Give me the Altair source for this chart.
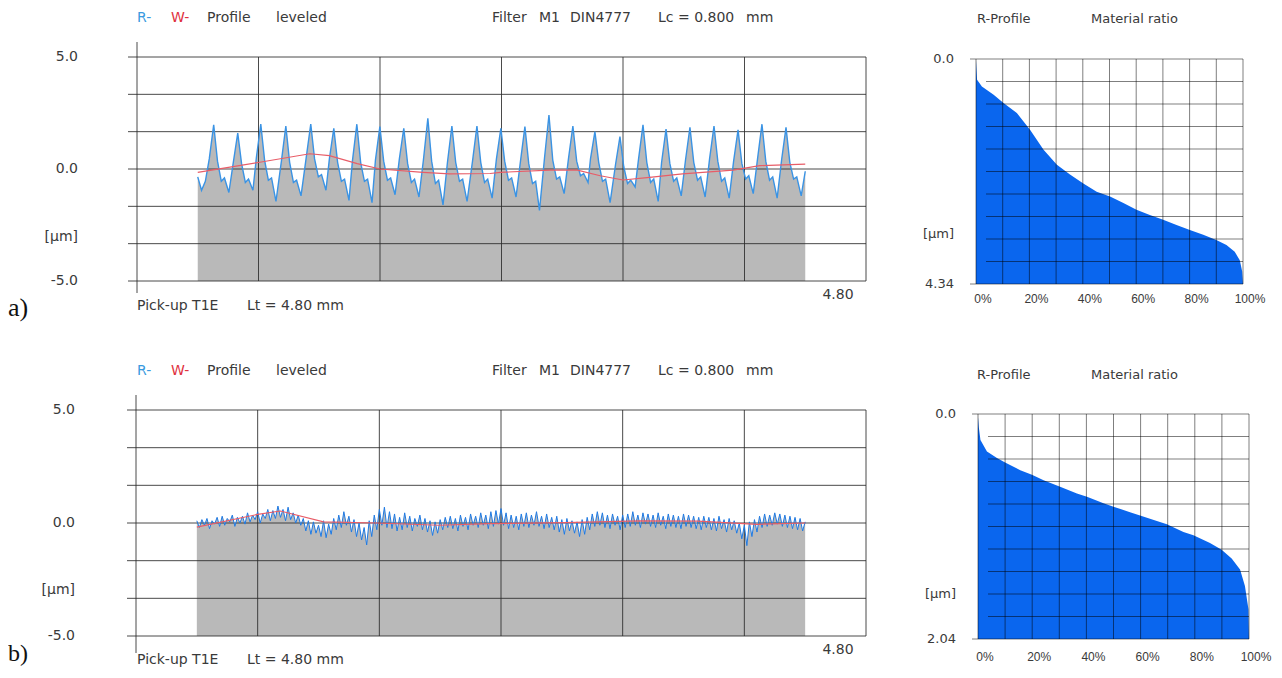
import altair as alt
import pandas as pd

# ---------------- data ----------------
# a) R-profile (x in mm, y in um)
prof_a_x = [
    0.000, 0.030, 0.060,
    0.091, 0.126, 0.156, 0.186, 0.211, 0.246,
    0.281, 0.316, 0.346, 0.376, 0.401, 0.436,
    0.463, 0.498, 0.528, 0.558, 0.583, 0.618,
    0.661, 0.696, 0.726, 0.756, 0.781, 0.816,
    0.858, 0.893, 0.923, 0.953, 0.978, 1.013,
    1.040, 1.075, 1.105, 1.135, 1.160, 1.195,
    1.222, 1.257, 1.287, 1.317, 1.342, 1.377,
    1.404, 1.439, 1.469, 1.499, 1.524, 1.559,
    1.593, 1.628, 1.658, 1.688, 1.713, 1.748,
    1.783, 1.818, 1.848, 1.878, 1.903, 1.938,
    1.973, 2.008, 2.038, 2.068, 2.093, 2.128,
    2.171, 2.206, 2.236, 2.266, 2.291, 2.326,
    2.360, 2.395, 2.425, 2.455, 2.480, 2.515,
    2.550, 2.585, 2.615, 2.645, 2.670, 2.700,
    2.740, 2.775, 2.805, 2.835, 2.860, 2.895,
    2.929, 2.964, 2.994, 3.024, 3.049, 3.084,
    3.103, 3.138, 3.168, 3.198, 3.223, 3.258,
    3.301, 3.336, 3.366, 3.396, 3.421, 3.456,
    3.483, 3.518, 3.548, 3.578, 3.603, 3.638,
    3.665, 3.700, 3.730, 3.760, 3.785, 3.820,
    3.854, 3.889, 3.919, 3.949, 3.974, 4.009,
    4.044, 4.079, 4.109, 4.139, 4.164, 4.199,
    4.234, 4.269, 4.299, 4.329, 4.354, 4.389,
    4.423, 4.458, 4.488, 4.518, 4.543, 4.578,
    4.613, 4.648, 4.678, 4.708, 4.733, 4.768,
    4.800,
]
prof_a_y = [
    -0.35, -0.95, -0.55,
    0.45, 1.97, 0.35, -0.55, -0.40, -1.05,
    0.30, 1.60, 0.25, -0.60, -0.45, -0.95,
    0.50, 2.01, 0.40, -0.50, -0.40, -1.45,
    0.35, 1.92, 0.30, -0.60, -0.50, -1.20,
    0.55, 2.01, 0.45, -0.35, -0.25, -0.95,
    0.45, 1.82, 0.30, -0.55, -0.45, -1.40,
    0.35, 2.00, 0.30, -0.55, -0.45, -1.50,
    0.40, 1.89, 0.35, -0.50, -0.40, -1.15,
    0.45, 1.82, 0.25, -0.60, -0.45, -1.25,
    0.40, 2.26, 0.35, -0.65, -0.50, -1.60,
    0.30, 1.92, 0.30, -0.55, -0.45, -1.45,
    0.35, 1.92, 0.30, -0.60, -0.45, -1.30,
    0.45, 1.82, 0.35, -0.50, -0.40, -1.25,
    0.35, 1.89, 0.25, -0.65, -0.55, -1.85,
    0.50, 2.41, 0.40, -0.45, -0.35, -1.10,
    0.45, 1.92, 0.35, -0.30, -0.20, -0.60,
    0.45, 1.67, 0.30, -0.55, -0.45, -1.50,
    0.20, 1.45, 0.10, -0.65, -0.50, -0.80,
    0.45, 1.97, 0.30, -0.60, -0.45, -1.45,
    0.30, 1.78, 0.25, -0.55, -0.40, -1.20,
    0.40, 1.86, 0.30, -0.50, -0.35, -1.25,
    0.45, 1.92, 0.35, -0.55, -0.40, -1.30,
    0.35, 1.75, 0.25, -0.45, -0.30, -1.10,
    0.45, 2.00, 0.35, -0.50, -0.35, -1.30,
    0.40, 1.86, 0.30, -0.45, -0.35, -1.20,
    -0.10,
]
# a) W-profile
wave_a_x = [0.0, 0.49, 0.885, 1.04, 1.26, 1.44, 1.78, 1.99, 2.31, 2.39, 2.78, 3.0,
            3.18, 3.36, 3.57, 3.83, 4.23, 4.44, 4.8]
wave_a_y = [-0.15, 0.3, 0.68, 0.6, 0.24, 0.0, -0.15, -0.22, -0.2, -0.15, -0.05, -0.05,
            -0.3, -0.49, -0.37, -0.22, -0.05, 0.15, 0.22]

# b) R-profile, sampled every 0.02 mm
prof_b_step = 0.02
prof_b_y = [
    0.1, -0.2, 0.15, -0.1, 0.2, -0.25, 0.1, -0.05, 0.25, -0.15,
    0.3, -0.1, 0.2, 0.05, 0.35, -0.15, 0.25, 0.0, 0.3, -0.05,
    0.45, 0.05, 0.35, 0.15, 0.5, 0.0, 0.4, 0.2, 0.6, 0.1,
    0.55, 0.2, 0.75, 0.25, 0.6, 0.1, 0.7, 0.15, 0.45, 0.0,
    0.35, -0.1, 0.2, -0.35, 0.1, -0.5, 0.05, -0.45, -0.1, -0.6,
    0.1, -0.65, -0.05, -0.5, 0.2, -0.3, 0.35, -0.2, 0.5, -0.1,
    0.3, -0.4, 0.15, -0.6, 0.0, -0.75, -0.2, -0.97, 0.1, -0.6,
    0.35, -0.3, 0.6, -0.1, 0.7, -0.2, 0.5, -0.25, 0.4, -0.35,
    0.25, -0.3, 0.45, -0.2, 0.3, -0.35, 0.2, -0.15, 0.35, -0.3,
    0.2, -0.4, 0.1, -0.55, 0.05, -0.45, 0.15, -0.3, 0.25, -0.2,
    0.3, -0.25, 0.2, -0.35, 0.35, -0.15, 0.25, -0.3, 0.4, -0.1,
    0.3, -0.2, 0.45, -0.1, 0.35, -0.25, 0.5, -0.15, 0.55, -0.05,
    0.64, -0.1, 0.45, -0.25, 0.35, -0.2, 0.3, -0.3, 0.4, -0.15,
    0.45, -0.2, 0.35, -0.1, 0.5, -0.15, 0.3, -0.25, 0.4, -0.2,
    0.25, -0.3, 0.3, -0.4, 0.15, -0.5, 0.2, -0.35, 0.1, -0.45,
    0.05, -0.6, 0.15, -0.5, 0.25, -0.3, 0.4, -0.15, 0.5, -0.1,
    0.45, -0.2, 0.35, -0.25, 0.4, -0.1, 0.3, -0.3, 0.35, -0.2,
    0.4, -0.15, 0.5, -0.1, 0.35, -0.2, 0.45, -0.05, 0.4, -0.15,
    0.35, -0.2, 0.45, -0.1, 0.3, -0.25, 0.4, -0.15, 0.35, -0.2,
    0.3, -0.25, 0.4, -0.15, 0.35, -0.2, 0.3, -0.25, 0.25, -0.3,
    0.3, -0.2, 0.25, -0.3, 0.2, -0.35, 0.3, -0.25, 0.15, -0.4,
    0.2, -0.3, 0.1, -0.45, 0.0, -0.7, -0.1, -1.0, 0.05, -0.6,
    0.15, -0.4, 0.3, -0.2, 0.4, -0.15, 0.35, -0.1, 0.45, -0.05,
    0.4, -0.15, 0.35, -0.2, 0.3, -0.25, 0.25, -0.3, 0.2, -0.35,
    0.05,
]
prof_b_x = [round(i * prof_b_step, 3) for i in range(len(prof_b_y))]
# b) W-profile
wave_b_x = [0.0, 0.48, 0.66, 1.0, 1.42, 1.91, 2.31, 2.9, 3.5, 3.95, 4.42, 4.8]
wave_b_y = [-0.18, 0.38, 0.53, 0.05, 0.0, -0.1, -0.03, 0.02, 0.09, 0.08, -0.06, 0.0]

# Material ratio (Abbott) curves: ratio in %, depth in um
ratio_a = [0, 0.4, 2.2, 6.6, 10.3, 15.3, 20.3, 25.3, 30.3, 35.2, 40.2, 45.2, 50.2, 55.2,
           60.1, 65.1, 70.1, 75.1, 80.1, 85.1, 90.0, 93.8, 96.9, 98.8, 99.7, 100]
depth_a = [0.03, 0.40, 0.53, 0.69, 0.85, 1.04, 1.37, 1.75, 2.04, 2.23, 2.40, 2.56, 2.65, 2.78,
           2.91, 3.01, 3.10, 3.20, 3.30, 3.39, 3.49, 3.59, 3.72, 3.88, 4.10, 4.34]
ratio_b = [0, 0.3, 0.9, 3.3, 7.0, 10.0, 15.6, 19.9, 24.2, 30.3, 36.5, 40.2, 46.3, 50.0, 56.1,
           59.8, 66.0, 69.7, 75.8, 79.5, 85.6, 89.9, 93.6, 96.7, 98.5, 99.8, 100]
depth_b = [0.03, 0.12, 0.235, 0.34, 0.40, 0.44, 0.51, 0.55, 0.60, 0.66, 0.72, 0.75, 0.81, 0.84,
           0.89, 0.92, 0.97, 1.00, 1.07, 1.10, 1.17, 1.23, 1.31, 1.41, 1.56, 1.77, 2.04]

# grids and tick labels
grid_profile_y = [-5.0, -3.333, -1.667, 0.0, 1.667, 3.333, 5.0]
grid_profile_x = [0.48, 1.44, 2.40, 3.36, 4.32, 5.28]
profile_ticks = [5.0, 0.0, -5.0]
profile_tick_labels = ["5.0", "0.0", "-5.0"]
grid_ratio = [0, 10, 20, 30, 40, 50, 60, 70, 80, 90, 100]
ratio_ticks = [0, 20, 40, 60, 80, 100]
ratio_tick_labels = ["0%", "20%", "40%", "60%", "80%", "100%"]
grid_depth_a = [0.434, 0.868, 1.302, 1.736, 2.170, 2.604, 3.038, 3.472, 3.906]
grid_depth_b = [0.204, 0.408, 0.612, 0.816, 1.020, 1.224, 1.428, 1.632, 1.836]
depth_max_a = 4.34
depth_max_b = 2.04
profile_length = "4.80"

# ---------------- styles ----------------
FONT = "DejaVu Sans"
TXT = "#3a3a3a"
GRID = "#2a2a2a"
GRAY = "#b9b9b9"
BLUE_R = "#3a93e4"
RED_W = "#e85d68"
MAT_BLUE = "#0a66ee"

layers = []


def S(domain, rng):
    return alt.Scale(domain=domain, range=rng, nice=False, zero=False)


def label(text, x, y, align="left", size=14, color=TXT, font=FONT):
    return alt.Chart(pd.DataFrame({"t": [text]})).mark_text(
        align=align, baseline="middle", fontSize=size, font=font, color=color
    ).encode(x=alt.value(x), y=alt.value(y), text="t:N")


def profile_panel(px, py, wx, wy, xr, yr, hx0, ax_top, ax_bot, line_color, line_w, top_y,
                  pick_y, len_y, lab_x, um_y):
    xs = S([-0.48, 5.28], xr)
    ys = S([-5, 5], yr)
    X = lambda f: alt.X(f, type="quantitative", scale=xs, axis=None)
    Y = lambda f: alt.Y(f, type="quantitative", scale=ys, axis=None)
    dprof = pd.DataFrame({"x": px, "y": py})
    dwave = pd.DataFrame({"x": wx, "y": wy})
    out = []
    out.append(alt.Chart(dprof).mark_area(color=GRAY, opacity=1).encode(
        x=X("x"), y=Y("y"), y2=alt.datum(-5)))
    out.append(alt.Chart(pd.DataFrame({"g": grid_profile_y})).mark_rule(
        color=GRID, strokeWidth=1, opacity=0.85).encode(
        y=Y("g"), x=alt.value(hx0), x2=alt.value(xr[1])))
    out.append(alt.Chart(pd.DataFrame({"g": grid_profile_x})).mark_rule(
        color=GRID, strokeWidth=1, opacity=0.85).encode(
        x=X("g"), y=alt.value(yr[1]), y2=alt.value(yr[0])))
    out.append(alt.Chart(pd.DataFrame({"g": [-0.48]})).mark_rule(
        color=GRID, strokeWidth=1, opacity=0.85).encode(
        x=X("g"), y=alt.value(ax_top), y2=alt.value(ax_bot)))
    out.append(alt.Chart(dprof).mark_line(color=line_color, strokeWidth=line_w).encode(
        x=X("x"), y=Y("y")))
    out.append(alt.Chart(dwave).mark_line(color=RED_W, strokeWidth=1.2).encode(
        x=X("x"), y=Y("y")))
    out.append(alt.Chart(pd.DataFrame({"v": profile_ticks, "t": profile_tick_labels})).mark_text(
        align="right", baseline="middle", fontSize=14, font=FONT, color=TXT).encode(
        y=Y("v"), x=alt.value(lab_x), text="t:N"))
    out.append(label("[µm]", lab_x, um_y, align="right"))
    # header
    out.append(label("R-", 129, top_y, color="#3a9ae0"))
    out.append(label("W-", 163, top_y, color="#e0323e"))
    out.append(label("Profile", 199, top_y))
    out.append(label("leveled", 268, top_y))
    out.append(label("Filter", 484, top_y))
    out.append(label("M1", 531, top_y))
    out.append(label("DIN4777", 562, top_y))
    out.append(label("Lc = 0.800", 650, top_y))
    out.append(label("mm", 738, top_y))
    # footer
    out.append(label("Pick-up T1E", 129, pick_y))
    out.append(label("Lt = 4.80  mm", 239, pick_y))
    out.append(label(profile_length, 830, len_y, align="center"))
    return out


def ratio_panel(ratio, depth, dmax, gdepth, xr, yr, top_y, xlab_y, um_y, max_label):
    xs = S([0, 100], xr)
    ys = S([0, dmax], yr)
    X = lambda f: alt.X(f, type="quantitative", scale=xs, axis=None)
    Y = lambda f: alt.Y(f, type="quantitative", scale=ys, axis=None)
    out = []
    out.append(alt.Chart(pd.DataFrame({"r": ratio, "d": depth})).mark_area(
        color=MAT_BLUE, opacity=1).encode(x=X("r"), y=Y("d"), y2=alt.datum(dmax)))
    out.append(alt.Chart(pd.DataFrame({"g": grid_ratio})).mark_rule(
        color="black", strokeWidth=1, opacity=0.5).encode(
        x=X("g"), y=alt.value(yr[0]), y2=alt.value(yr[1])))
    out.append(alt.Chart(pd.DataFrame({"g": gdepth})).mark_rule(
        color="black", strokeWidth=1, opacity=0.5).encode(
        y=Y("g"), x=alt.value(xr[0] + 10), x2=alt.value(xr[1])))
    out.append(alt.Chart(pd.DataFrame({"g": [0, dmax]})).mark_rule(
        color="black", strokeWidth=1, opacity=0.5).encode(
        y=Y("g"), x=alt.value(xr[0] - 6), x2=alt.value(xr[1])))
    out.append(alt.Chart(pd.DataFrame({"v": ratio_ticks, "t": ratio_tick_labels})).mark_text(
        align="center", baseline="middle", fontSize=12, font="Liberation Sans", color=TXT,
        dx=7).encode(x=X("v"), y=alt.value(xlab_y), text="t:N"))
    out.append(alt.Chart(pd.DataFrame({"v": [0, dmax], "t": ["0.0", max_label]})).mark_text(
        align="right", baseline="middle", fontSize=13, font=FONT, color=TXT).encode(
        y=Y("v"), x=alt.value(xr[0] - 22), text="t:N"))
    out.append(label("[µm]", xr[0] - 22, um_y, align="right", size=13))
    out.append(label("R-Profile", 969, top_y, size=13))
    out.append(label("Material ratio", 1083, top_y, size=13))
    return out


layers += profile_panel(prof_a_x, prof_a_y, wave_a_x, wave_a_y, [129, 858], [273, 49], 120,
                        34, 285, BLUE_R, 1.4, 10, 298, 287, 70, 229)
layers += ratio_panel(ratio_a, depth_a, depth_max_a, grid_depth_a, [968, 1235], [51, 276],
                      11, 291, 226, "4.34")
layers += profile_panel(prof_b_x, prof_b_y, wave_b_x, wave_b_y, [128, 858], [628, 402], 119,
                        387, 645, "#1f7ae3", 1.0, 363, 652, 642, 67, 582)
layers += ratio_panel(ratio_b, depth_b, depth_max_b, grid_depth_b, [970, 1241], [406, 631],
                      367, 649, 586, "2.04")
layers.append(label("a)", 0, 300, size=26, color="#111", font="Liberation Serif"))
layers.append(label("b)", 0, 646, size=24, color="#111", font="Liberation Serif"))

chart = alt.layer(*layers).resolve_scale(x="independent", y="independent").properties(
    width=1266, height=662, padding=0, autosize=alt.AutoSizeParams(type="none"),
    background="white"
).configure_view(stroke=None)

chart.save("out.html", embed_options={"renderer": "svg", "actions": False})
